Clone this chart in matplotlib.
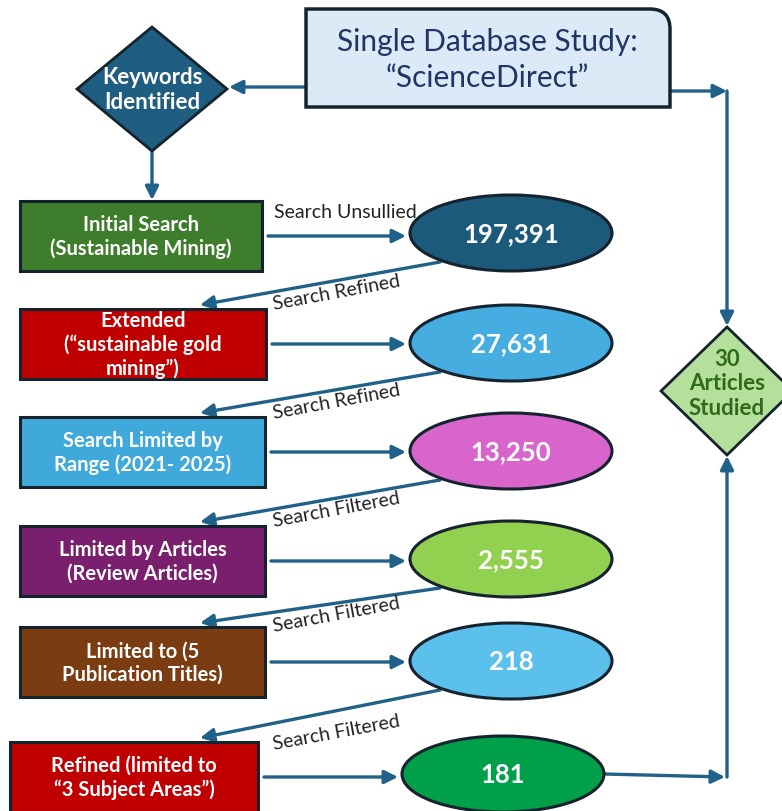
import numpy as np
import matplotlib.pyplot as plt
from matplotlib.patches import Polygon, Ellipse, Rectangle, PathPatch
from matplotlib.path import Path

plt.rcParams['font.family'] = ['Lato', 'DejaVu Sans']

#%% data
source = 'Single Database Study:\n\u201cScienceDirect\u201d'
start_node = 'Keywords\nIdentified'
end_node = '30\nArticles\nStudied'
steps = ['Initial Search\n(Sustainable Mining)',
         'Extended\n(\u201csustainable gold\nmining\u201d)',
         'Search Limited by\nRange (2021- 2025)',
         'Limited by Articles\n(Review Articles)',
         'Limited to (5\nPublication Titles)',
         'Refined (limited to\n\u201c3 Subject Areas\u201d)']
counts = [197391, 27631, 13250, 2555, 218, 181]
links = ['Search Unsullied', 'Search Refined', 'Search Refined',
         'Search Filtered', 'Search Filtered', 'Search Filtered']
step_colors = ['#3e7d2b', '#c00000', '#3fa9dc', '#7a1f6e', '#7b3c12', '#c00000']
count_colors = ['#1c5a7c', '#45ade0', '#d864cc', '#92d050', '#5bc0ec', '#00a04b']

#%% layout (pixel coords, y down)
box_x = [20, 20, 20, 20, 20, 10]
box_w = [242, 246, 245, 245, 245, 248]
row_y = [237, 345, 453, 562, 663, 778]
ell_x = [511, 511, 511, 511, 511, 503]
ell_y = [234, 344, 452, 560, 662, 775]
ell_w, ell_h = 202, 76
box_h = 70
arrow_c = '#1f6189'
edge_c = '#15232e'

fig = plt.figure(figsize=(7.82, 8.12), dpi=100)
ax = fig.add_axes([0, 0, 1, 1])
ax.set_xlim(0, 782)
ax.set_ylim(812, 0)
ax.axis('off')


def arrow(p0, p1, head=True):
    ax.annotate('', xy=p1, xytext=p0,
                arrowprops=dict(arrowstyle='-|>' if head else '-', color=arrow_c,
                                lw=2.4, mutation_scale=20,
                                shrinkA=0, shrinkB=0), zorder=2)


# top source box with one rounded corner
verts = [(306, 108), (306, 10), (650, 10), (670, 10), (670, 30), (670, 108), (306, 108)]
codes = [Path.MOVETO, Path.LINETO, Path.LINETO, Path.CURVE3, Path.CURVE3,
         Path.LINETO, Path.CLOSEPOLY]
ax.add_patch(PathPatch(Path(verts, codes), fc='#dce9f6', ec=edge_c, lw=2.5, zorder=3))
ax.text(487, 60, source, ha='center', va='center', fontsize=21.5,
        color='#1f3566', linespacing=1.35, zorder=4)

# keywords diamond
kx, ky = 152, 90
ax.add_patch(Polygon([(kx, 28), (kx + 75, ky), (kx, 152), (kx - 75, ky)],
                     closed=True, fc='#1f5e80', ec=edge_c, lw=2, zorder=3))
ax.text(kx, ky, start_node, ha='center', va='center', fontsize=16,
        fontweight='bold', color='white', linespacing=1.25, zorder=4)
arrow((312, 88), (229, 88))
arrow((kx, 152), (kx, 201))

# 30 articles diamond
dx, dy = 727, 392
ax.add_patch(Polygon([(dx, 328), (dx + 66, dy), (dx, 456), (dx - 66, dy)],
                     closed=True, fc='#b4e09c', ec=edge_c, lw=2, zorder=3))
ax.text(dx, dy - 8, end_node, ha='center', va='center', fontsize=16,
        fontweight='bold', color='#2d6a1c', linespacing=1.2, zorder=4)

# steps and counts
for i in range(len(steps)):
    y = row_y[i]
    ax.add_patch(Rectangle((box_x[i], y - box_h / 2), box_w[i], box_h,
                           fc=step_colors[i], ec=edge_c, lw=2.2, zorder=3))
    ax.text(box_x[i] + box_w[i] / 2, y, steps[i], ha='center', va='center',
            fontsize=14.5, fontweight='bold', color='white',
            linespacing=1.2, zorder=4)
    ax.add_patch(Ellipse((ell_x[i], ell_y[i]), ell_w, ell_h,
                         fc=count_colors[i], ec=edge_c, lw=2.2, zorder=3))
    ax.text(ell_x[i], ell_y[i], '{:,}'.format(counts[i]), ha='center',
            va='center', fontsize=18.5, fontweight='bold', color='white', zorder=4)
    x0 = box_x[i] + box_w[i] + 6
    arrow((x0, y), (ell_x[i] - ell_w / 2 - 4, y))

# link labels and diagonal arrows
ax.text(345, 212, links[0], ha='center', va='center', fontsize=14,
        color='#222222', zorder=4)
for i in range(1, len(steps)):
    ya = ell_y[i - 1] + 29
    yb = row_y[i] - box_h / 2 - 4
    arrow((440, ya), (200, yb))
    off = 8 if i < 5 else 18
    ax.text(336, (ya + yb) / 2 + off, links[i], ha='center', va='center',
            fontsize=14, color='#222222', rotation=10.5, zorder=4)

# right-hand connectors
arrow((670, 92), (727, 92))
arrow((727, 92), (727, 327))
arrow((ell_x[-1] + ell_w / 2, ell_y[-1]), (725, 778))
arrow((727, 778), (727, 457))

fig.savefig('out.png', dpi=100)
